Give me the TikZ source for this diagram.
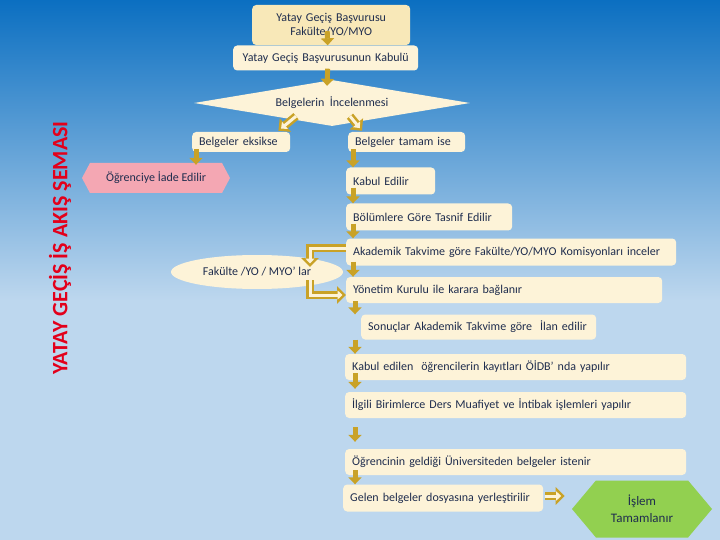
\documentclass[tikz,border=0pt]{standalone}
\usepackage{fontspec}
\setmainfont{Carlito}
\usetikzlibrary{arrows.meta, positioning, shapes.geometric, shapes.symbols, calc}

\definecolor{bgtop}{HTML}{0B6FC1}
\definecolor{bglight}{HTML}{BDD7EE}
\definecolor{cream}{HTML}{FDF3D8}
\definecolor{creamdark}{HTML}{F8E8B8}
\definecolor{navy}{HTML}{1F2D4E}
\definecolor{gold}{HTML}{C9A227}
\definecolor{pinkbox}{HTML}{F4A7B3}
\definecolor{greenbox}{HTML}{92D050}
\definecolor{titlered}{HTML}{E3001B}

\newcommand{\boxfont}{\fontsize{12}{14}\selectfont}

\begin{document}
\begin{tikzpicture}[x=1pt, y=-1pt,
  stepbox/.style={fill=cream, rounded corners=4pt, anchor=west, inner xsep=7pt, inner ysep=0pt, align=left, text=navy, font=\boxfont},
  flow/.style={draw=gold, line width=5pt, -{Triangle[length=7pt, width=13pt]}},
  bent/.style={draw=gold, line width=8pt, -{Triangle[length=9pt, width=17pt]},
    postaction={draw=cream, line width=3pt, shorten >=3.5pt, -{Triangle[length=5pt, width=9pt]}}}]

\useasboundingbox (0,0) rectangle (720,540);
% background
\fill[bglight] (0,0) rectangle (720,540);
\shade[top color=bgtop, bottom color=bglight] (0,0) rectangle (720,300);

\node[rotate=90, text=titlered, font=\fontsize{22}{24}\selectfont\bfseries] (baslik) at (60,248) {YATAY GEÇİŞ İŞ AKIŞ ŞEMASI};

% boxes
\node[stepbox, fill=creamdark, align=center, text width=144pt, minimum height=40pt] (basvuru) at (252,25) {Yatay Geçiş Başvurusu\\Fakülte/YO/MYO};
\node[stepbox, align=center, text width=171pt, minimum height=25pt] (kabul) at (233,58) {Yatay Geçiş Başvurusunun Kabulü};
\node[diamond, aspect=6, fill=cream, minimum width=276pt, minimum height=46pt, inner sep=0pt, text=navy, font=\boxfont] (incele) at (332,103) {Belgelerin\ \ İncelenmesi};
\node[stepbox, text width=84pt, minimum height=20pt] (eksik) at (192,142) {Belgeler eksikse};
\node[stepbox, text width=103pt, minimum height=20pt] (tamam) at (348,142) {Belgeler tamam ise};
\node[signal, signal to=west and east, signal pointer angle=124, fill=pinkbox, minimum width=148pt, minimum height=30pt, text=navy, font=\boxfont] (iade) at (156,178) {Öğrenciye İade Edilir};
\node[stepbox, text width=75pt, minimum height=27pt] (kabuledilir) at (346,181) {Kabul Edilir};
\node[stepbox, text width=152pt, minimum height=27pt] (tasnif) at (346,217) {Bölümlere Göre Tasnif Edilir};
\node[stepbox, text width=316pt, minimum height=27pt] (akademik) at (346,252) {Akademik Takvime göre Fakülte/YO/MYO Komisyonları inceler};
\node[ellipse, fill=cream, minimum width=172pt, minimum height=34pt, inner sep=0pt, text=navy, font=\boxfont] (fakulte) at (257,272) {Fakülte /YO / MYO’ lar};
\node[stepbox, text width=302pt, minimum height=26pt] (yonetim) at (346,290) {Yönetim Kurulu ile karara bağlanır};
\node[stepbox, text width=221pt, minimum height=25pt] (sonuc) at (361,327) {Sonuçlar Akademik Takvime göre\ \ İlan edilir};
\node[stepbox, text width=327pt, minimum height=26pt] (kayit) at (345,367) {Kabul edilen\ \ öğrencilerin kayıtları ÖİDB’ nda yapılır};
\node[stepbox, text width=327pt, minimum height=26pt] (muafiyet) at (345,405) {İlgili Birimlerce Ders Muafiyet ve İntibak işlemleri yapılır};
\node[stepbox, text width=327pt, minimum height=26pt] (istenir) at (345,462) {Öğrencinin geldiği Üniversiteden belgeler istenir};
\node[stepbox, text width=186pt, minimum height=27pt] (dosya) at (343,498) {Gelen belgeler dosyasına yerleştirilir};
\node[signal, signal to=west and east, signal pointer angle=100, fill=greenbox, minimum width=140pt, minimum height=57pt, text=navy, align=center, font=\fontsize{13}{17}\selectfont] (tamamlanir) at (642,509) {İşlem\\Tamamlanır};

% arrows
\draw[flow] ([xshift=-4pt,yshift=14pt]basvuru.south) -- ([xshift=2pt]kabul.north);
\draw[flow] ([xshift=2pt,yshift=2pt]kabul.south) -- ([xshift=-5pt,yshift=-6pt]incele.north);
\draw[bent] ([xshift=-36pt,yshift=10pt]incele.south) -- ([xshift=-12pt,yshift=1pt]eksik.north east);
\draw[bent] ([xshift=18pt,yshift=10pt]incele.south) -- ([xshift=14pt,yshift=1pt]tamam.north west);
\draw[flow] ([xshift=4pt,yshift=3pt]eksik.south west) -- ([xshift=40pt,yshift=-2pt]iade.north);
\draw[flow] ([xshift=5pt,yshift=3pt]tamam.south west) -- ([xshift=7pt]kabuledilir.north west);
\draw[flow] ([xshift=7pt,yshift=7pt]kabuledilir.south west) -- ([xshift=7pt]tasnif.north west);
\draw[flow] ([xshift=7pt,yshift=7pt]tasnif.south west) -- ([xshift=7pt]akademik.north west);
\draw[flow] ([xshift=7pt,yshift=4pt]akademik.south west) -- ([xshift=7pt]yonetim.north west);
\draw[bent] ([yshift=4pt]akademik.west) -| ($(fakulte.center)+(53,-5)$);
\draw[bent] ($(fakulte.center)+(53,8)$) |- ([yshift=-5pt]yonetim.west);
\draw[flow] ([xshift=9pt,yshift=2pt]yonetim.south west) -- ([xshift=-6pt]sonuc.north west);
\draw[flow] ([xshift=-6pt]sonuc.south west) -- ([xshift=10pt]kayit.north west);
\draw[flow] ([xshift=10pt,yshift=7pt]kayit.south west) -- ([xshift=10pt,yshift=3pt]muafiyet.north west);
\draw[flow] ([xshift=10pt,yshift=-9pt]muafiyet.south west) -- ([xshift=10pt,yshift=7pt]istenir.north west);
\draw[flow] ([xshift=10pt,yshift=5pt]istenir.south west) -- ([xshift=12pt]dosya.north west);
\draw[bent] ([xshift=2pt,yshift=2pt]dosya.east) -- ([xshift=-7pt,yshift=13pt]tamamlanir.west);
\end{tikzpicture}
\end{document}
